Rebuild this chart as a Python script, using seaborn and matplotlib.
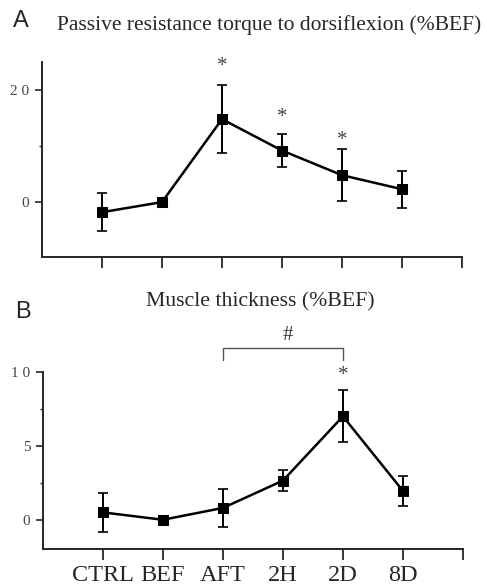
import pandas as pd
import matplotlib
matplotlib.use("Agg")
import matplotlib.pyplot as plt
import seaborn as sns

# data
groups = ["CTRL", "BEF", "AFT", "2H", "2D", "8D"]
torque_mean = [-1.8, 0.0, 14.8, 9.2, 4.8, 2.3]
torque_err = [3.4, 0.0, 6.1, 3.0, 4.6, 3.3]
torque_star = [None, None, 24.2, 15.1, 11.0, None]
thick_mean = [0.5, 0.0, 0.8, 2.65, 7.0, 1.95]
thick_err = [1.3, 0.0, 1.3, 0.7, 1.75, 1.0]
thick_star = [None, None, None, None, 9.75, None]

sns.set_style("ticks")
plt.rcParams["font.family"] = ["Liberation Serif", "DejaVu Serif"]

fig = plt.figure(figsize=(4.87, 5.86), dpi=100)
axA = fig.add_axes([0.0862, 0.5614, 0.8625, 0.3328])
axB = fig.add_axes([0.0880, 0.0626, 0.8627, 0.3026])


def draw_panel(ax, mean, err, stars, ylim, yticks, ytlabels, minor):
    df = pd.DataFrame({"pos": range(1, len(groups) + 1), "val": mean})
    ax.errorbar(df["pos"], df["val"], yerr=err, fmt="none", ecolor="black",
                elinewidth=1.4, capsize=3.8, capthick=1.2, zorder=2)
    sns.lineplot(data=df, x="pos", y="val", ax=ax, color="black", lw=1.8,
                 marker="s", markersize=7, markeredgecolor="black", zorder=3)
    for p, s in zip(df["pos"], stars):
        if s is not None:
            ax.text(p, s, "*", ha="center", va="center",
                    fontsize=15, color="#444444")
    ax.set_xlim(0, 7)
    ax.set_ylim(*ylim)
    ax.set_xticks(range(1, 8))
    ax.set_yticks(yticks)
    ax.set_yticks(minor, minor=True)
    ax.set_yticklabels(ytlabels, fontsize=11, color="#444444")
    ax.set_xlabel("")
    ax.set_ylabel("")
    ax.tick_params(axis="x", length=8, width=1.3, direction="out")
    ax.tick_params(axis="y", which="major", length=5, width=1.2,
                   direction="out", pad=4)
    ax.tick_params(axis="y", which="minor", length=2.5, width=1.0,
                   direction="out")
    sns.despine(ax=ax)
    for sp in ["left", "bottom"]:
        ax.spines[sp].set_linewidth(1.4)


draw_panel(axA, torque_mean, torque_err, torque_star, (-9.8, 25),
           [0, 20], ["0", "2 0"], [10])
axA.set_xticklabels([])

draw_panel(axB, thick_mean, thick_err, thick_star, (-2, 10),
           [0, 5, 10], ["0", "5", "1 0"], [2.5, 7.5])
axB.set_xticklabels(groups + [""], fontsize=17.5)
axB.tick_params(axis="x", pad=3)

# bracket between AFT and 2D
axB.plot([3, 3, 5, 5], [10.8, 11.65, 11.65, 10.8], color="#555555", lw=1,
         clip_on=False)
axB.text(4.08, 12.45, "#", ha="center", va="center", fontsize=15,
         color="#333333")

fig.text(0.043, 0.965, "A", fontsize=17, family="Liberation Sans",
         ha="center", va="center")
fig.text(0.553, 0.957, "Passive resistance torque to dorsiflexion (%BEF)",
         fontsize=15.5, ha="center", va="center")
fig.text(0.048, 0.468, "B", fontsize=17, family="Liberation Sans",
         ha="center", va="center")
fig.text(0.534, 0.485, "Muscle thickness (%BEF)", fontsize=15.7,
         ha="center", va="center")

fig.savefig("out.png", dpi=100)
